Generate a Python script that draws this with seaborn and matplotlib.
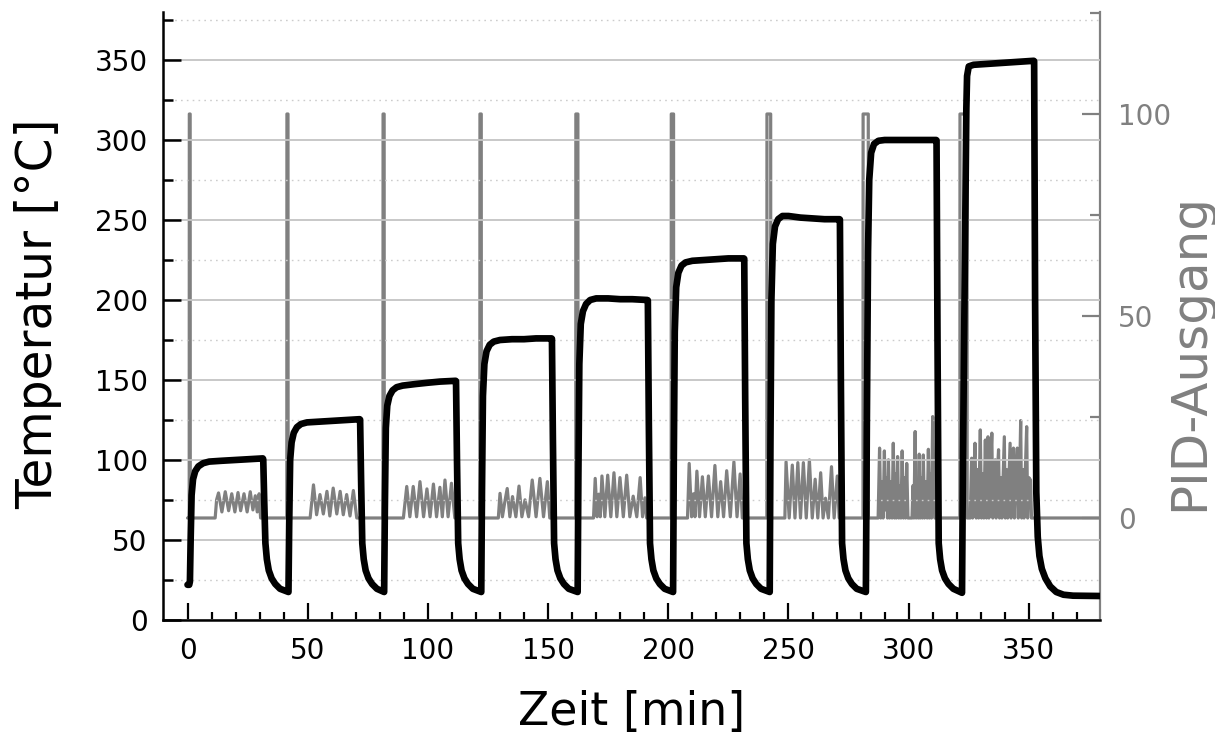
import matplotlib
matplotlib.use("Agg")
import matplotlib.pyplot as plt
import seaborn as sns
from matplotlib.ticker import FixedLocator

# ---------------- data ----------------
temp_time = [
    0.0, 0.7, 1.0, 1.3, 1.7, 2.3, 3.2, 4.5, 6.5, 9.0, 14.0, 20.0, 26.0, 31.3,
    31.5, 31.9, 32.4, 33.0, 33.8, 35.0, 36.5, 38.5, 41.9,
    42.0, 42.3, 42.7, 43.3, 44.2, 45.5, 47.2, 49.7, 55.0, 60.0, 65.0, 71.6,
    71.8, 72.2, 72.7, 73.3, 74.1, 75.3, 76.8, 78.8, 81.7,
    81.8, 82.1, 82.5, 83.1, 84.0, 85.3, 87.0, 89.5, 95.0, 100.0, 105.0, 111.5,
    111.7, 112.1, 112.6, 113.2, 114.0, 115.2, 116.7, 118.7, 122.1,
    122.2, 122.5, 122.9, 123.5, 124.4, 125.7, 127.4, 130.0, 135.0, 140.0, 145.0, 151.4,
    151.6, 152.0, 152.5, 153.1, 153.9, 155.1, 156.6, 158.6, 162.2,
    162.3, 162.6, 163.0, 163.6, 164.5, 165.8, 167.5, 170.0, 175.0, 180.0, 185.0, 191.3,
    191.5, 191.9, 192.4, 193.0, 193.8, 195.0, 196.5, 198.5, 201.9,
    202.0, 202.3, 202.7, 203.3, 204.2, 205.5, 207.2, 210.0, 215.0, 220.0, 225.0, 231.4,
    231.6, 232.0, 232.5, 233.1, 233.9, 235.1, 236.6, 238.6, 242.1,
    242.2, 242.5, 242.9, 243.5, 244.4, 245.7, 247.5, 250.0, 255.0, 260.0, 265.0, 271.2,
    271.4, 271.8, 272.3, 272.9, 273.7, 274.9, 276.4, 278.4, 282.1,
    282.2, 282.6, 283.1, 283.6, 284.4, 285.6, 287.4, 290.0, 295.0, 300.0, 305.0, 311.4,
    311.6, 312.0, 312.5, 313.1, 313.9, 315.1, 316.6, 318.6, 322.1,
    322.2, 322.6, 323.4, 324.0, 324.3, 325.0, 327.0, 332.0, 337.0, 342.0, 347.0, 352.0,
    352.2, 352.6, 353.1, 353.7, 354.4, 355.4, 356.9, 358.9, 361.4, 364.4, 368.4, 379.6,
]
temp_value = [
    22, 22, 24, 50, 78, 88, 93, 96, 98, 99, 99.5, 100, 100.5, 101,
    100.5, 75, 48, 38, 31, 26, 22.5, 19.5, 17.5,
    17.5, 60, 100, 111, 117, 120.5, 122.5, 123.5, 124, 124.5, 125, 125.5,
    125.2, 88, 48, 38, 31, 26, 22.5, 19.5, 17.5,
    17.5, 70, 120, 134, 140, 143.5, 145.5, 146.5, 147.5, 148.3, 149, 149.5,
    149.3, 100, 48, 38, 31, 26, 22.5, 19.5, 17.5,
    17.5, 80, 140, 160, 168, 172, 174, 175, 175.5, 175.5, 176, 176,
    175.8, 113, 48, 38, 31, 26, 22.5, 19.5, 17.5,
    17.5, 90, 160, 185, 193, 197.5, 200, 201, 201, 200.5, 200.5, 200,
    199.8, 125, 48, 38, 31, 26, 22.5, 19.5, 17.5,
    17.5, 100, 180, 208, 217, 221.5, 223.5, 224.5, 225, 225.5, 226, 226,
    225.8, 138, 48, 38, 31, 26, 22.5, 19.5, 17.5,
    17.5, 110, 200, 235, 246, 250.5, 252.5, 252.5, 251.5, 251, 250.5, 250.5,
    250.3, 150, 48, 38, 31, 26, 22.5, 19.5, 17.5,
    17.5, 120, 230, 275, 292, 297.5, 299.5, 300, 300, 300, 300, 300,
    299.8, 175, 48, 38, 31, 26, 22.5, 19.5, 17,
    17, 100, 230, 320, 340, 346, 347, 347.5, 348, 348.5, 349, 349.5,
    349.3, 200, 80, 52, 40, 32, 26, 21, 17.5, 15.8, 15.2, 15,
]

pid_time = [
    0.0, 0.7, 0.75, 1.1, 1.15, 11.5,
    12.1, 12.9, 14.3, 15.7, 17.1, 18.4, 19.7, 21.0, 22.1, 23.5, 24.8, 26.1, 27.2, 28.2, 29.0, 29.8, 30.4,
    41.3, 41.35, 41.8, 41.85, 51.0,
    52.4, 53.7, 55.1, 56.5, 58.0, 59.2, 60.6, 62.1, 63.5, 64.8, 66.2, 67.6, 69.0, 70.4,
    81.3, 81.35, 81.8, 81.85, 89.8,
    91.2, 92.5, 93.9, 95.3, 96.7, 98.2, 99.6, 100.9, 102.3, 103.6, 105.0, 106.0, 107.1, 108.4, 109.8, 111.2,
    121.6, 121.65, 122.2, 122.25, 129.3,
    130.0, 131.0, 132.0, 133.0, 134.1, 135.2, 136.6, 137.9, 139.1, 140.4, 141.9, 143.4, 145.0, 146.6, 148.1, 149.7, 150.7,
    161.5, 161.55, 162.4, 162.45, 168.9,
    169.6, 170.4, 171.1, 171.7, 172.4, 173.6, 174.8, 176.1, 177.4, 178.6, 179.9, 181.3, 182.7, 184.0, 185.4, 186.9,
    188.3, 189.3, 190.3, 191.0,
    201.2, 201.25, 202.2, 202.25, 208.0,
    208.7, 209.7, 210.5, 211.1, 211.9, 213.0, 214.2, 215.4, 216.7, 218.0, 219.4, 220.6, 221.8, 223.0, 224.3, 225.8,
    227.3, 228.6, 229.9, 230.8,
    241.0, 241.05, 242.6, 242.65, 248.5,
    249.0, 250.3, 251.6, 252.7, 253.9, 255.0, 256.2, 257.4, 258.7, 259.9, 261.1, 262.2, 263.4, 264.4, 265.4, 266.6,
    267.9, 269.0, 270.3, 271.1,
    281.0, 281.05, 283.2, 283.25, 287.3,
    287.9, 288.4, 288.9, 289.4, 289.9, 290.3, 290.8, 291.2, 291.6, 292.1, 292.6, 293.1, 293.6, 294.1, 294.5, 294.9,
    295.4, 295.9, 296.3, 296.8, 297.3, 297.8, 298.3, 298.7, 299.2, 299.7, 301.4, 301.8, 302.2, 302.7, 303.1, 303.6,
    304.0, 304.4, 304.8, 305.3, 305.7, 306.1, 306.6, 307.2, 307.7, 308.2, 308.6, 309.1, 309.5, 310.0, 310.4, 310.9,
    321.3, 321.35, 324.3, 324.35, 325.6,
    326.2, 326.6, 327.1, 327.6, 328.1, 328.6, 329.1, 329.8, 330.3, 330.8, 331.3, 331.9, 332.4, 333.0, 333.4, 333.9,
    334.6, 335.0, 335.5, 336.0, 336.4, 336.9, 337.4, 337.8, 338.3, 338.8, 339.8, 340.2, 340.7, 341.2, 342.2, 342.6,
    343.1, 343.6, 344.0, 344.5, 345.2, 345.6, 346.1, 346.6, 347.0, 347.5, 348.0, 348.5, 349.1, 349.5, 350.0, 350.7,
    351.1, 379.6,
]
pid_value = [
    0, 0, 100, 100, 0, 0,
    4.5, 6.2, 1.5, 6.5, 1.8, 6.0, 1.5, 6.3, 1.8, 6.0, 1.5, 6.5, 2.0, 5.5, 1.5, 6.0, 0,
    0, 100, 100, 0, 0,
    8.2, 0.8, 5.8, 1.0, 6.6, 0.5, 7.4, 1.0, 6.6, 0.8, 5.8, 0.5, 6.8, 0,
    0, 100, 100, 0, 0,
    7.8, 0.3, 7.8, 0.3, 9.0, 0.3, 7.2, 0.3, 8.4, 0.3, 7.6, 0.3, 9.4, 0.3, 8.6, 0,
    0, 100, 100, 0, 0,
    6.1, 0.3, 4.0, 7.3, 0.3, 5.3, 0.3, 7.9, 0.3, 4.5, 0.3, 9.4, 0.3, 9.8, 0.3, 9.0, 0,
    0, 100, 100, 0, 0,
    9.8, 0.3, 5.9, 0.3, 10.4, 0.3, 10.6, 0.3, 11.2, 0.3, 10.0, 0.3, 10.6, 0.3, 5.4, 0.3,
    10.0, 0.3, 5.0, 0,
    0, 100, 100, 0, 0,
    13.5, 0.3, 6.0, 0.3, 11.6, 0.3, 10.2, 0.3, 10.4, 0.3, 13.0, 0.3, 9.0, 0.3, 11.7, 0.3,
    13.9, 0.3, 10.9, 0,
    0, 100, 100, 0, 0,
    13.9, 0, 13.1, 0, 13.7, 0, 13.7, 0, 14.4, 0, 9.6, 0, 11.2, 0, 4.9, 0,
    12.7, 0, 10.4, 0,
    0, 100, 100, 0, 0,
    17.3, 0, 9, 0, 16.6, 2, 10, 0, 14.4, 0, 9, 0, 18.5, 0, 11, 0,
    15.2, 0, 8, 0, 16.6, 0, 10, 0, 13.5, 0, 0, 8, 0, 21.4, 0, 9,
    0, 15.8, 0, 10, 0, 15.6, 0, 9, 0, 17.0, 0, 11, 0, 25.1, 12, 0,
    0, 100, 100, 0, 0,
    14.8, 0, 10, 18.5, 0, 12, 0, 21.8, 0, 11, 0, 19.3, 0, 20.1, 0, 10,
    21.0, 0, 9, 14.4, 0, 11, 16.9, 0, 10, 0, 20.1, 0, 12, 0, 18.5, 0,
    10, 17.3, 0, 9, 17.3, 0, 8, 24.1, 0, 12, 0, 11, 22.6, 0, 10, 9.4,
    0, 0,
]

x_major = [0, 50, 100, 150, 200, 250, 300, 350]
x_minor = [10, 20, 30, 40, 60, 70, 80, 90, 110, 120, 130, 140, 160, 170, 180, 190,
           210, 220, 230, 240, 260, 270, 280, 290, 310, 320, 330, 340, 360, 370]
t_major = [0, 50, 100, 150, 200, 250, 300, 350]
t_minor = [25, 75, 125, 175, 225, 275, 325, 375]
p_major = [0, 50, 100]
p_minor = [25, 75, 125]

GRAY = "#808080"

# ---------------- figure ----------------
sns.set_theme(style="white")
plt.rcParams["font.family"] = ["DejaVu Sans"]

fig = plt.figure(figsize=(12.15, 7.36), dpi=100)
ax = fig.add_axes([163 / 1215, 1 - 620 / 736, (1100 - 163) / 1215, (620 - 12) / 736])
ax2 = ax.twinx()

sns.lineplot(x=pid_time, y=pid_value, ax=ax2, color=GRAY, linewidth=2.3,
             estimator=None, sort=False, legend=False)
sns.lineplot(x=temp_time, y=temp_value, ax=ax, color="black", linewidth=4.8,
             estimator=None, sort=False, legend=False)

ax.set_zorder(ax2.get_zorder() + 1)
ax.patch.set_visible(False)

ax.set_xlim(-10.2, 379.6)
ax.set_ylim(0, 380)
ax2.set_ylim(-25.25, 125.25)

ax.xaxis.set_major_locator(FixedLocator(x_major))
ax.xaxis.set_minor_locator(FixedLocator(x_minor))
ax.yaxis.set_major_locator(FixedLocator(t_major))
ax.yaxis.set_minor_locator(FixedLocator(t_minor))
ax2.yaxis.set_major_locator(FixedLocator(p_major))
ax2.yaxis.set_minor_locator(FixedLocator(p_minor))

ax.grid(False)
ax2.grid(False)
ax.set_axisbelow(True)
ax.yaxis.grid(True, which="major", color="#c4c4c4", linewidth=1.3, linestyle="-")
ax.yaxis.grid(True, which="minor", color="#cccccc", linewidth=1.0, linestyle=(0, (1.2, 3.0)))

for s in ["top", "right"]:
    ax.spines[s].set_visible(False)
for s in ["left", "bottom"]:
    ax.spines[s].set_color("black")
    ax.spines[s].set_linewidth(1.8)
for s in ["top", "left", "bottom"]:
    ax2.spines[s].set_visible(False)
ax2.spines["right"].set_color(GRAY)
ax2.spines["right"].set_linewidth(1.6)

ax.tick_params(axis="x", which="major", direction="in", length=12, width=1.6,
               color="black", labelsize=20, pad=12, labelcolor="black", bottom=True)
ax.tick_params(axis="x", which="minor", direction="in", length=6, width=1.6,
               color="black", bottom=True)
ax.tick_params(axis="y", which="major", direction="in", length=13, width=1.8,
               color="black", labelsize=20, pad=11, labelcolor="black", left=True)
ax.tick_params(axis="y", which="minor", direction="in", length=7, width=1.8,
               color="black", left=True)
ax2.tick_params(axis="y", which="major", direction="in", length=13, width=1.6,
                color=GRAY, labelsize=20, pad=13, labelcolor=GRAY, right=True)
ax2.tick_params(axis="y", which="minor", direction="in", length=7, width=1.6,
                color=GRAY, right=True)

ax.set_xlabel("Zeit [min]", fontsize=33, color="black", va="center")
ax.xaxis.set_label_coords(0.5, (620 - 712) / 608)
ax.set_ylabel("Temperatur [°C]", fontsize=35, color="black", va="center")
ax.yaxis.set_label_coords((38 - 163) / 937, (620 - 314) / 608)
ax2.set_ylabel("PID-Ausgang", fontsize=36, color=GRAY, va="center")
ax2.yaxis.set_label_coords((1189 - 163) / 937, (620 - 352) / 608)

fig.savefig("out.png", dpi=100)
